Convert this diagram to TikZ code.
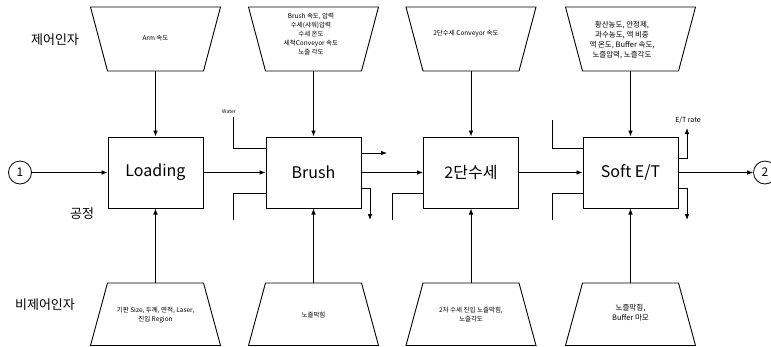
\documentclass[tikz,border=0pt]{standalone}
\usepackage{fontspec}
\setmainfont{Noto Sans CJK KR}
\usetikzlibrary{arrows.meta}
\begin{document}
\begin{tikzpicture}[x=1pt,y=-1pt,
  line width=0.8pt,
  arr/.style={-{Latex[length=6pt,width=4.6pt]}},
  procbox/.style={draw,line width=1pt,minimum width=95pt,minimum height=71pt,inner sep=0pt,font=\fontsize{16}{16}\selectfont},
  trap/.style={draw,line width=0.9pt},
  small/.style={font=\fontsize{6.5}{9}\selectfont,align=center,inner sep=0pt},
  rowlab/.style={font=\fontsize{13}{13}\selectfont,inner sep=0pt},
  circ/.style={draw,circle,minimum size=23pt,inner sep=0pt,line width=0.8pt,font=\fontsize{12}{12}\selectfont}]
\useasboundingbox (0,0) rectangle (771,346);

% row labels
\node[rowlab] (lc) at (55,40) {제어인자};
\node[rowlab] (lp) at (82,214) {공정};
\node[rowlab] (ln) at (45,305) {비제어인자};

% process boxes
\node[procbox] (load) at (155.5,172.5) {Loading};
\node[procbox] (brush) at (313.5,172.5) {Brush};
\node[procbox] (wash) at (471,172.5) {2단수세};
\node[procbox] (soft) at (630.5,172.5) {Soft E/T};

% circles
\node[circ] (c1) at (20,172.5) {1};
\node[circ] (c2) at (765,172.5) {2};

% top trapezoids
\foreach \cx/\nm in {155.5/t1,313.5/t2,471/t3,630.5/t4}{
  \draw[trap] (\cx-65,7) -- (\cx+65,7) -- (\cx+48,71) -- (\cx-48,71) -- cycle;
  \coordinate (\nm) at (\cx,71);
}
% bottom trapezoids
\foreach \cx/\nm in {155.5/b1,313.5/b2,471/b3,630.5/b4}{
  \draw[trap] (\cx-48,283) -- (\cx+48,283) -- (\cx+65,345.5) -- (\cx-65,345.5) -- cycle;
  \coordinate (\nm) at (\cx,283);
}

% texts in trapezoids
\node[small] (tt1) at (155.5,38) {Arm 속도};
\node[small] (tt2) at (311,34) {Brush 속도, 압력\\수세(샤워)압력\\수세 온도\\세척Conveyor 속도\\노즐 각도};
\node[small] (tt3) at (466,34) {2단수세 Conveyor 속도};
\node[small,font=\fontsize{7.5}{10}\selectfont] (tt4) at (622,40) {황산농도, 안정제,\\과수농도, 액 비중\\액 온도, Buffer 속도,\\노즐압력, 노즐각도};
\node[small] (bt1) at (155.5,315) {기판 Size, 두께, 면적, Laser,\\진입 Region};
\node[small] (bt2) at (313.5,315) {노즐막힘};
\node[small] (bt3) at (471,315) {2차 수세 진입 노즐막힘,\\노즐각도};
\node[small,font=\fontsize{7.5}{10}\selectfont] (bt4) at (630.5,313) {노즐막힘,\\Buffer 마모};

% control / non-control arrows
\foreach \a/\b in {t1/load,t2/brush,t3/wash,t4/soft}{
  \draw[arr] (\a) -- (\b.north);
}
\foreach \a/\b in {b1/load,b2/brush,b3/wash,b4/soft}{
  \draw[arr] (\a) -- (\b.south);
}

% main flow
\draw[arr] (c1) -- (load);
\draw[arr] (load) -- (brush);
\draw[arr] (brush) -- (wash);
\draw[arr] (wash) -- (soft);
\draw[arr] (soft) -- (c2);

% side stubs
\coordinate (wtop) at (233,117);
\coordinate (bbl) at (233,220);
\coordinate (wbl) at (392,220);
\coordinate (stl) at (552,120);
\coordinate (sbl) at (552,220);
\coordinate (brt) at (387,153);
\coordinate (brb) at (370,220);
\coordinate (srt) at (687,128);
\coordinate (srb) at (687,220);
\node[font=\fontsize{5}{5}\selectfont,inner sep=0pt] (wlab) at (229,112) {Water};
\node[font=\fontsize{7}{7}\selectfont,inner sep=0pt] (etr) at (688,120) {E/T rate};

\draw (wtop) |- ([yshift=24.5pt]brush.west);
\draw (bbl) |- ([yshift=-20.5pt]brush.west);
\draw (wbl) |- ([yshift=-20.5pt]wash.west);
\draw (stl) |- ([yshift=24.5pt]soft.west);
\draw (sbl) |- ([yshift=-20.5pt]soft.west);
\draw[arr] ([yshift=19.5pt]brush.east) -- (brt);
\draw[arr] ([yshift=-15.5pt]brush.east) -| (brb);
\draw[arr] ([yshift=14.5pt]soft.east) -| (srt);
\draw[arr] ([yshift=-15.5pt]soft.east) -| (srb);
\end{tikzpicture}
\end{document}
